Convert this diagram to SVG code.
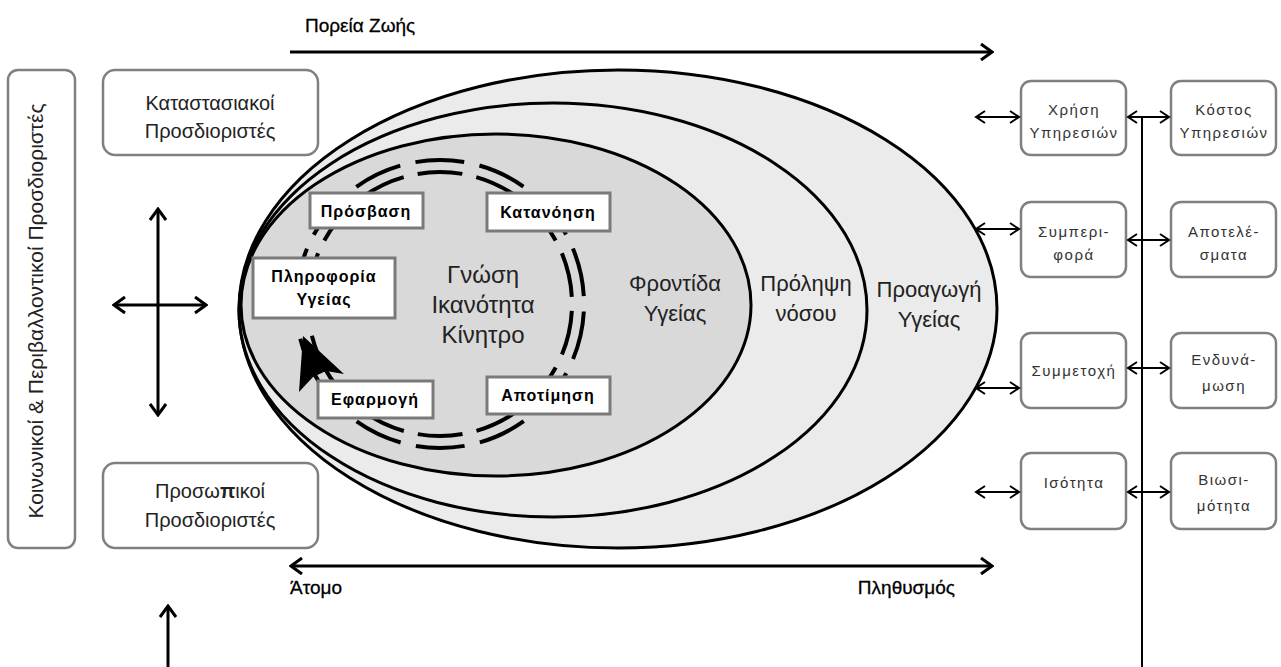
<svg xmlns="http://www.w3.org/2000/svg" width="1281" height="667" viewBox="0 0 1281 667">
<style>
text{font-family:"Liberation Sans","DejaVu Sans",sans-serif;fill:#222;}
.rb{fill:#fff;stroke:#808080;stroke-width:2.5;}
.ib{fill:#fff;stroke:#7a7a7a;stroke-width:3;}
.ell{stroke:#000;stroke-width:3;}
.ln{stroke:#000;stroke-width:3;fill:none;}
.lnt{stroke:#000;stroke-width:2;fill:none;}
.bt{font-weight:bold;font-size:16px;fill:#000;text-anchor:middle;letter-spacing:1px;}
.rt{font-size:15px;fill:#333;text-anchor:middle;letter-spacing:1.5px;}
.lt{font-size:20px;text-anchor:middle;}
.el{font-size:22px;text-anchor:middle;}
.ax{font-size:19px;fill:#000;stroke:#000;stroke-width:0.3;}
.ring{fill:none;stroke:#000;stroke-width:4;}
</style>
<defs>
<marker id="ah" viewBox="0 0 14 18" refX="12" refY="9" markerWidth="14" markerHeight="18" markerUnits="userSpaceOnUse" orient="auto-start-reverse"><path d="M1,1 L12,9 L1,17" fill="none" stroke="#000" stroke-width="3"/></marker>
<marker id="as" viewBox="0 0 12 14" refX="10" refY="7" markerWidth="12" markerHeight="14" markerUnits="userSpaceOnUse" orient="auto-start-reverse"><path d="M1,1 L10,7 L1,13" fill="none" stroke="#000" stroke-width="2"/></marker>
</defs>

<g id="left-column">
<rect class="rb" x="8" y="70" width="67" height="478" rx="10"/>
<text transform="translate(43,311) rotate(-90)" font-size="21" text-anchor="middle">Κοινωνικοί &amp; Περιβαλλοντικοί Προσδιοριστές</text>
</g>
<g id="situational">
<rect class="rb" x="103" y="70" width="215" height="85" rx="12"/>
<text class="lt" x="210" y="110">Καταστασιακοί</text>
<text class="lt" x="210" y="138">Προσδιοριστές</text>
</g>
<g id="personal">
<rect class="rb" x="103" y="463" width="215" height="85" rx="12"/>
<text class="lt" x="210" y="498">Προσω<tspan font-weight="bold">π</tspan>ικοί</text>
<text class="lt" x="210" y="527">Προσδιοριστές</text>
</g>

<g id="ellipses">
<ellipse class="ell" cx="618" cy="309" rx="379" ry="239" fill="#ebebeb"/>
<ellipse class="ell" cx="553" cy="310" rx="314" ry="207" fill="#ebebeb"/>
<ellipse class="ell" cx="496" cy="305" rx="255" ry="171" fill="#d9d9d9"/>
</g>

<g id="ring">
<circle class="ring" cx="440" cy="304" r="144" stroke-dasharray="0 7.54 49 15.61 49 15.61 49 15.61 49 15.61 49 15.61 49 15.61 21.86 42.75 49 15.61 49 15.61 49 15.61 49 15.61 49 15.61 49 15.61 49 15.61"/>
<circle class="ring" cx="440" cy="304" r="132" stroke-dasharray="0 6.91 44.93 14.31 44.93 14.31 44.93 14.31 44.93 14.31 44.93 14.31 44.93 14.31 20.04 39.19 44.93 14.31 44.93 14.31 44.93 14.31 44.93 14.31 44.93 14.31 44.93 14.31 44.93 14.31"/>
<polygon points="303,336 344,374 326,371 313,377 299,392" fill="#000"/>
</g>

<g id="center-text">
<text x="483" y="283" font-size="24" text-anchor="middle">Γνώση</text>
<text x="483" y="313" font-size="24" text-anchor="middle">Ικανότητα</text>
<text x="483" y="343" font-size="24" text-anchor="middle">Κίνητρο</text>
</g>

<g id="ring-boxes">
<g id="access"><rect class="ib" x="310" y="193" width="113" height="35"/><text class="bt" x="366" y="217">Πρόσβαση</text></g>
<g id="understanding"><rect class="ib" x="487" y="193" width="123" height="38"/><text class="bt" x="548" y="218">Κατανόηση</text></g>
<g id="health-info"><rect class="ib" x="253" y="258" width="142" height="60"/><text class="bt" x="324" y="282">Πληροφορία</text><text class="bt" x="324" y="305">Υγείας</text></g>
<g id="application"><rect class="ib" x="318" y="381" width="115" height="37"/><text class="bt" x="375" y="405">Εφαρμογή</text></g>
<g id="appraisal"><rect class="ib" x="487" y="377" width="123" height="37"/><text class="bt" x="548" y="401">Αποτίμηση</text></g>
</g>

<g id="ellipse-labels">
<text class="el" x="675" y="291">Φροντίδα</text>
<text class="el" x="675" y="321">Υγείας</text>
<text class="el" x="806" y="291">Πρόληψη</text>
<text class="el" x="806" y="321">νόσου</text>
<text class="el" x="929" y="297">Προαγωγή</text>
<text class="el" x="929" y="327">Υγείας</text>
</g>

<g id="axis-labels">
<text class="ax" x="305" y="32">Πορεία Ζωής</text>
<text class="ax" x="290" y="594">Άτομο</text>
<text class="ax" x="955" y="594" text-anchor="end">Πληθυσμός</text>
</g>

<g id="right-boxes">
<g id="use"><rect class="rb" x="1021" y="81" width="105" height="74" rx="10"/><text class="rt" x="1074" y="115">Χρήση</text><text class="rt" x="1074" y="138">Υπηρεσιών</text></g>
<g id="cost"><rect class="rb" x="1171" y="81" width="105" height="74" rx="10"/><text class="rt" x="1224" y="115">Κόστος</text><text class="rt" x="1224" y="138">Υπηρεσιών</text></g>
<g id="behaviour"><rect class="rb" x="1021" y="202" width="105" height="75" rx="10"/><text class="rt" x="1074" y="237">Συμπερι-</text><text class="rt" x="1074" y="260">φορά</text></g>
<g id="outcomes"><rect class="rb" x="1171" y="202" width="105" height="75" rx="10"/><text class="rt" x="1224" y="237">Αποτελέ-</text><text class="rt" x="1224" y="260">σματα</text></g>
<g id="participation"><rect class="rb" x="1021" y="333" width="105" height="75" rx="10"/><text class="rt" x="1074" y="376">Συμμετοχή</text></g>
<g id="empowerment"><rect class="rb" x="1171" y="333" width="105" height="75" rx="10"/><text class="rt" x="1224" y="365">Ενδυνά-</text><text class="rt" x="1224" y="391">μωση</text></g>
<g id="equity"><rect class="rb" x="1021" y="453" width="105" height="76" rx="10"/><text class="rt" x="1074" y="488">Ισότητα</text></g>
<g id="sustainability"><rect class="rb" x="1171" y="453" width="105" height="76" rx="10"/><text class="rt" x="1224" y="485">Βιωσι-</text><text class="rt" x="1224" y="511">μότητα</text></g>
</g>

<g id="connectors">
<line class="ln" x1="290" y1="52" x2="992" y2="52" marker-end="url(#ah)"/>
<line class="ln" x1="291" y1="566" x2="992" y2="566" marker-start="url(#ah)" marker-end="url(#ah)"/>
<line class="ln" x1="158" y1="209" x2="158" y2="415" marker-start="url(#ah)" marker-end="url(#ah)"/>
<line class="ln" x1="114" y1="305" x2="206" y2="305" marker-start="url(#ah)" marker-end="url(#ah)"/>
<line class="ln" x1="168" y1="667" x2="168" y2="606" marker-end="url(#ah)"/>
<line class="lnt" x1="976" y1="117" x2="1019" y2="117" marker-start="url(#as)" marker-end="url(#as)"/>
<line class="lnt" x1="976" y1="229" x2="1019" y2="229" marker-start="url(#as)" marker-end="url(#as)"/>
<line class="lnt" x1="976" y1="388" x2="1019" y2="388" marker-start="url(#as)" marker-end="url(#as)"/>
<line class="lnt" x1="976" y1="492" x2="1019" y2="492" marker-start="url(#as)" marker-end="url(#as)"/>
<line class="lnt" x1="1142" y1="117" x2="1142" y2="667"/>
<line class="lnt" x1="1128" y1="117" x2="1169" y2="117" marker-start="url(#as)" marker-end="url(#as)"/>
<line class="lnt" x1="1128" y1="240" x2="1169" y2="240" marker-start="url(#as)" marker-end="url(#as)"/>
<line class="lnt" x1="1128" y1="368" x2="1169" y2="368" marker-start="url(#as)" marker-end="url(#as)"/>
<line class="lnt" x1="1128" y1="492" x2="1169" y2="492" marker-start="url(#as)" marker-end="url(#as)"/>
</g>
</svg>
